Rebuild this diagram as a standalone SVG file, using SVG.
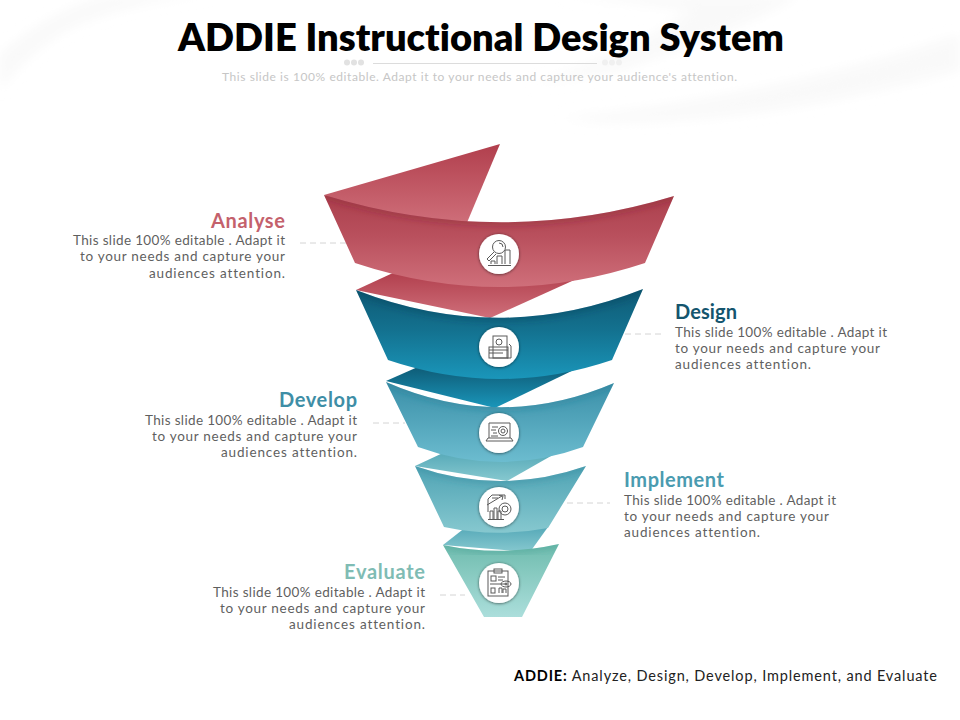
<svg xmlns="http://www.w3.org/2000/svg" width="960" height="720" viewBox="0 0 960 720">
<style>
text{font-family:"Lato","Liberation Sans",sans-serif;font-variant-ligatures:none}
.t{font-size:20px;font-weight:700}
.b{font-size:13.500px;fill:#5f5f5f}
.e{text-anchor:end}
.lead{stroke:#d4d4d4;stroke-width:1;stroke-dasharray:6 4;fill:none}
.disc{fill:#fff;filter:url(#ds)}
.ic{fill:none;stroke:#5a5a5a;stroke-width:1}
.edge{fill:none;stroke-width:8;filter:url(#bl)}
</style>
<defs>
<filter id="ds" x="-30%" y="-30%" width="160%" height="160%"><feDropShadow dx="0" dy="0.5" stdDeviation="1.4" flood-color="#000" flood-opacity=".6"/></filter>
<filter id="bl" x="-5%" y="-50%" width="110%" height="200%"><feGaussianBlur stdDeviation="3"/></filter>
<filter id="sw"><feGaussianBlur stdDeviation="6"/></filter>
<linearGradient id="g1" x1="0" y1="0" x2="0" y2="1"><stop offset="0" stop-color="#ab3f4d"/><stop offset=".45" stop-color="#b9505d"/><stop offset="1" stop-color="#cf6f7a"/></linearGradient>
<linearGradient id="g1f" x1="0" y1="0" x2="0" y2="1"><stop offset="0" stop-color="#b13f4d"/><stop offset="1" stop-color="#cf6f7a"/></linearGradient>
<linearGradient id="g2" x1="0" y1="0" x2="0" y2="1"><stop offset="0" stop-color="#0e5a75"/><stop offset=".45" stop-color="#13718f"/><stop offset="1" stop-color="#1a96ba"/></linearGradient>
<linearGradient id="g2f" x1="0" y1="0" x2="0" y2="1"><stop offset="0" stop-color="#0e5a75"/><stop offset="1" stop-color="#1a96ba"/></linearGradient>
<linearGradient id="g3" x1="0" y1="0" x2="0" y2="1"><stop offset="0" stop-color="#3a8fa8"/><stop offset="1" stop-color="#6cbccf"/></linearGradient>
<linearGradient id="g3f" x1="0" y1="0" x2="0" y2="1"><stop offset="0" stop-color="#3c93ac"/><stop offset="1" stop-color="#63b5c9"/></linearGradient>
<linearGradient id="g4" x1="0" y1="0" x2="0" y2="1"><stop offset="0" stop-color="#4fa3b4"/><stop offset="1" stop-color="#86c8cf"/></linearGradient>
<linearGradient id="g4f" x1="0" y1="0" x2="0" y2="1"><stop offset="0" stop-color="#56a9b8"/><stop offset="1" stop-color="#86c8cf"/></linearGradient>
<linearGradient id="g5" x1="0" y1="0" x2="0" y2="1"><stop offset="0" stop-color="#6fbcae"/><stop offset="1" stop-color="#abdedb"/></linearGradient>
<clipPath id="c1"><path d="M324 195Q500 249 674 196L645 263Q500 311 355 263Z"/></clipPath>
<clipPath id="c2"><path d="M356 290Q500 346 643 289L612 360Q500 398 388 360Z"/></clipPath>
<clipPath id="c3"><path d="M386 382Q500 432 614 383L583 447Q500 477 418 447Z"/></clipPath>
<clipPath id="c4"><path d="M415 466Q500 496 586 466L548 528Q496 538 444 527Z"/></clipPath>
<clipPath id="c5"><path d="M443 545Q500 557 559 544L522 617L484 617Z"/></clipPath>
</defs>
<rect width="960" height="720" fill="#fff"/>
<g id="background" fill="#f9f9f9" filter="url(#sw)">
<path d="M0 55Q50 10 110 -5L220 -5Q130 0 70 28Q30 50 0 90Z"/>
<path d="M560 -5L800 -5Q740 30 620 70L530 85Q640 50 690 10Z"/>
<path d="M560 118Q760 100 960 35L960 70Q760 125 600 122Z"/>
</g>
<g id="header">
<text x="481" y="51" text-anchor="middle" fill="#000" font-weight="800" textLength="606" lengthAdjust="spacingAndGlyphs" style="font-size:38px">ADDIE Instructional Design System</text>
<path d="M373 63.500H597" stroke="#dcdcdc"/>
<g fill="#e2e2e2"><circle cx="347" cy="62.500" r="3"/><circle cx="354" cy="62.500" r="3"/><circle cx="361" cy="62.500" r="3"/></g>
<g fill="#f0f0f0"><circle cx="605" cy="62.500" r="3"/><circle cx="612" cy="62.500" r="3"/><circle cx="619" cy="62.500" r="3"/></g>
<text x="222" y="81" fill="#c6c6c6" textLength="515" style="font-size:12px">This slide is 100% editable. Adapt it to your needs and capture your audience's attention.</text>
</g>
<g id="connectors">
<path class="lead" d="M300 243H350"/>
<path class="lead" d="M625 334H662"/>
<path class="lead" d="M373 423H405"/>
<path class="lead" d="M567 503H610"/>
<path class="lead" d="M440 595H465"/>
</g>
<g id="evaluate">
<path fill="url(#g4f)" d="M443 545L466 527H548L530 552Z"/>
<path fill="url(#g5)" d="M443 545Q500 557 559 544L522 617L484 617Z"/>
<path class="edge" stroke="#3d9488" stroke-opacity=".3" clip-path="url(#c5)" d="M443 545Q500 557 559 544"/>
<circle class="disc" cx="499" cy="583" r="20"/>
<g class="ic">
<rect x="488" y="571" width="20" height="25"/><rect x="494" y="569" width="8" height="4"/>
<rect x="491" y="576" width="5" height="5"/><path d="M498 577H505M498 580H503M490 584H507"/>
<ellipse cx="506" cy="584" rx="5" ry="3"/><circle cx="506" cy="584" r="1"/>
<rect x="491" y="588" width="4" height="5"/><path d="M499 593V588H502V593M503 593V589H506V593"/>
</g>
<text class="t e" x="425" y="579" fill="#7fbcb4" textLength="81">Evaluate</text>
<text class="b e" x="425" y="597" textLength="212">This slide 100% editable . Adapt it</text>
<text class="b e" x="425" y="613" textLength="205">to your needs and capture your</text>
<text class="b e" x="425" y="629" textLength="136">audiences attention.</text>
</g>
<g id="implement">
<path fill="url(#g4f)" d="M415 466L445 452H558L507 481Z"/>
<path fill="url(#g4)" d="M415 466Q500 496 586 466L548 528Q496 538 444 527Z"/>
<path class="edge" stroke="#2f8298" stroke-opacity=".3" clip-path="url(#c4)" d="M415 466Q500 496 586 466"/>
<circle class="disc" cx="499" cy="507" r="20"/>
<g class="ic">
<path d="M488 512V499L492 495H505V499M487 505L502 496M499 495.500L503 496L502 500"/>
<path d="M490 519V511H493V519M494 519V508H497V519M498 519V511H501V519M488 519.500H504"/>
<circle cx="505" cy="509" r="6"/><circle cx="505" cy="509" r="3"/><path d="M492 498H498"/>
</g>
<text class="t" x="624" y="487" fill="#4a9bb0" textLength="100">Implement</text>
<text class="b" x="624" y="505" textLength="212">This slide 100% editable . Adapt it</text>
<text class="b" x="624" y="521" textLength="205">to your needs and capture your</text>
<text class="b" x="624" y="537" textLength="136">audiences attention.</text>
</g>
<g id="develop">
<path fill="url(#g2f)" d="M386 381L420 366H582L495 408Z"/>
<path fill="url(#g3)" d="M386 382Q500 432 614 383L583 447Q500 477 418 447Z"/>
<path class="edge" stroke="#1d7690" stroke-opacity=".3" clip-path="url(#c3)" d="M386 382Q500 432 614 383"/>
<circle class="disc" cx="499" cy="433" r="20"/>
<g class="ic">
<path d="M489 438V423H510V438M486 441H513L511 438H488Z"/>
<path d="M492 427H498M491 430H496M493 433H497M491 436H498"/>
<circle cx="503" cy="431" r="4.500"/><circle cx="503" cy="431" r="2"/>
</g>
<text class="t e" x="357" y="407" fill="#3e8ea6" textLength="78">Develop</text>
<text class="b e" x="357" y="425" textLength="212">This slide 100% editable . Adapt it</text>
<text class="b e" x="357" y="441" textLength="205">to your needs and capture your</text>
<text class="b e" x="357" y="457" textLength="136">audiences attention.</text>
</g>
<g id="design">
<path fill="url(#g1f)" d="M356 290L395 272H592L490 318Z"/>
<path fill="url(#g2)" d="M356 290Q500 346 643 289L612 360Q500 398 388 360Z"/>
<path class="edge" stroke="#07384c" stroke-opacity=".3" clip-path="url(#c2)" d="M356 290Q500 346 643 289"/>
<circle class="disc" cx="499" cy="347" r="20"/>
<g class="ic">
<rect x="493" y="336" width="14" height="22"/><circle cx="499" cy="342" r="3"/>
<rect x="489" y="347" width="19" height="11"/><path d="M489 350H508M489 353H503M509 344L511 346V358H507"/>
</g>
<text class="t" x="675" y="319" fill="#14556e" textLength="62">Design</text>
<text class="b" x="675" y="337" textLength="212">This slide 100% editable . Adapt it</text>
<text class="b" x="675" y="353" textLength="205">to your needs and capture your</text>
<text class="b" x="675" y="369" textLength="136">audiences attention.</text>
</g>
<g id="analyse">
<path fill="url(#g1f)" d="M324 195L500 144L466 225L380 220Z"/>
<path fill="url(#g1)" d="M324 195Q500 249 674 196L645 263Q500 311 355 263Z"/>
<path class="edge" stroke="#7e1f2e" stroke-opacity=".3" clip-path="url(#c1)" d="M324 195Q500 249 674 196"/>
<circle class="disc" cx="499" cy="254" r="20"/>
<g class="ic">
<circle cx="499" cy="247" r="6.500"/><path d="M494 252L487 259L489 261L496 254M499 243A4 4 0 0 1 503 247"/>
<path d="M497 264V256H502V264M505 264V250H510V264M491 264V261H495V264M488 265.500H511"/>
</g>
<text class="t e" x="285" y="228" fill="#c4616c" textLength="74">Analyse</text>
<text class="b e" x="285" y="245" textLength="212">This slide 100% editable . Adapt it</text>
<text class="b e" x="285" y="261" textLength="205">to your needs and capture your</text>
<text class="b e" x="285" y="278" textLength="136">audiences attention.</text>
</g>
<text x="514" y="681" fill="#222" textLength="423" style="font-size:14.500px"><tspan font-weight="700" fill="#000">ADDIE:</tspan> Analyze, Design, Develop, Implement, and Evaluate</text>
</svg>
